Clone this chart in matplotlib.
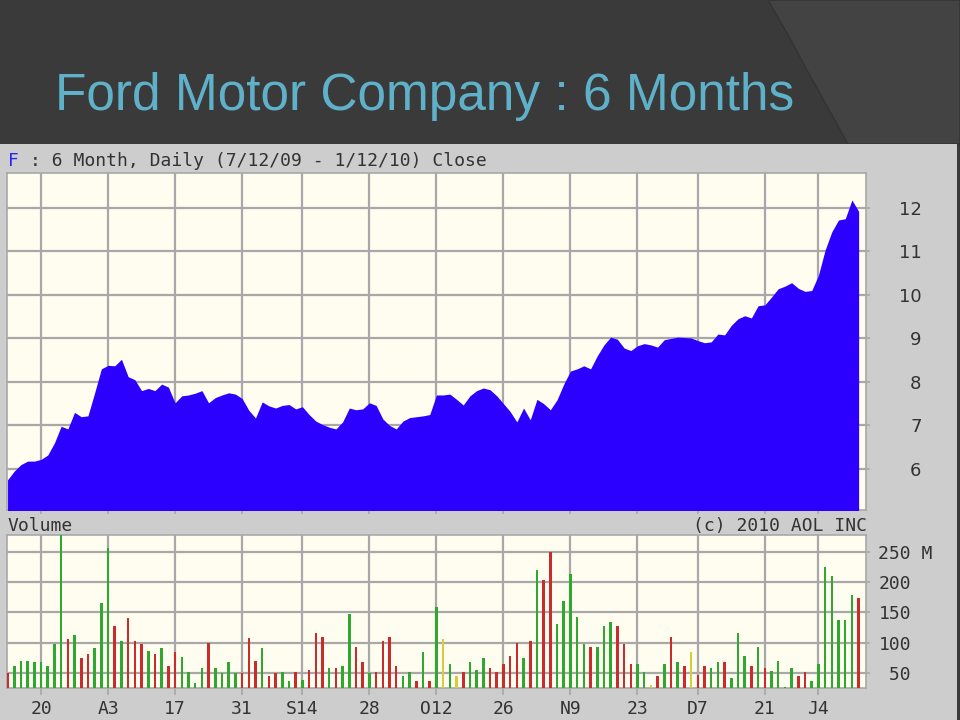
"""Ford Motor Company 6-month price / volume chart, as seen on a slide."""

import matplotlib
matplotlib.use('Agg')
import matplotlib.pyplot as plt
import numpy as np
from matplotlib.patches import Rectangle, Polygon

# Daily closes, 7/13/09 .. 1/12/10 (trading-day index 0..127) [$]
close = [5.75, 5.95, 6.10, 6.18, 6.18, 6.22, 6.32, 6.60, 6.98, 6.92,
         7.30, 7.20, 7.22, 7.75, 8.30, 8.38, 8.37, 8.52, 8.12, 8.05,
         7.80, 7.85, 7.80, 7.95, 7.88, 7.52, 7.68, 7.70, 7.74, 7.80,
         7.52, 7.64, 7.70, 7.75, 7.72, 7.62, 7.35, 7.17, 7.54, 7.45,
         7.40, 7.46, 7.48, 7.38, 7.43, 7.25, 7.10, 7.02, 6.96, 6.92,
         7.08, 7.40, 7.36, 7.38, 7.52, 7.46, 7.15, 7.00, 6.92, 7.10,
         7.18, 7.20, 7.22, 7.25, 7.70, 7.70, 7.72, 7.60, 7.47, 7.68,
         7.80, 7.86, 7.82, 7.68, 7.50, 7.32, 7.08, 7.40, 7.13, 7.60,
         7.50, 7.36, 7.59, 7.95, 8.25, 8.30, 8.37, 8.30, 8.60, 8.85,
         9.03, 8.98, 8.78, 8.72, 8.83, 8.88, 8.85, 8.80, 8.97, 9.00,
         9.03, 9.02, 9.01, 8.95, 8.90, 8.92, 9.10, 9.08, 9.30, 9.45,
         9.52, 9.47, 9.75, 9.77, 9.95, 10.14, 10.20, 10.28, 10.15, 10.08,
         10.10, 10.45, 11.03, 11.45, 11.72, 11.75, 12.18, 11.92]

# Daily volume [millions]
volume = [50, 61, 70, 70, 68, 68, 61, 97, 300, 106,
          112, 74, 81, 92, 165, 257, 128, 103, 140, 103,
          97, 86, 81, 92, 61, 84, 77, 51, 33, 58,
          99, 58, 50, 68, 50, 50, 108, 70, 92, 45,
          50, 51, 36, 51, 38, 55, 116, 109, 58, 58,
          61, 147, 93, 68, 50, 51, 102, 109, 61, 45,
          51, 36, 84, 36, 159, 106, 64, 45, 51, 68,
          55, 74, 58, 51, 64, 78, 99, 74, 103, 220,
          204, 250, 131, 169, 213, 143, 97, 93, 93, 128,
          134, 128, 97, 65, 65, 51, 30, 45, 65, 109,
          68, 61, 84, 47, 61, 58, 68, 68, 42, 116,
          78, 61, 93, 58, 54, 70, 27, 58, 45, 51,
          36, 65, 225, 210, 138, 138, 178, 173]

# up (g) / down (r) / unchanged (y) day for each volume bar
updown = ("rggggggggr" "grrgggrgrr" "rgrgrrgggg" "rggggrrrgr" "rggrgrrrgr"
          "ggrrgrrrrg" "grgrgygyrg" "ggrrrrrgrg" "rrgggggrgg" "grrrggyrgr"
          "gryrrggrgg" "grgrggggrr" "gggggggr")

tick_days = [5, 15, 25, 35, 44, 54, 64, 74, 84, 94, 103, 113, 121]
tick_labels = ['20', 'A3', '17', '31', 'S14', '28', 'O12', '26', 'N9', '23', 'D7', '21', 'J4']

price_ticks = [6, 7, 8, 9, 10, 11, 12]
vol_ticks = [50, 100, 150, 200, 250]
vol_labels = [' 50', '100', '150', '200', '250 M']

SLIDE = '#3a3a3a'
PANEL = '#cdcdcd'
CREAM = '#fffcf0'
GRID = '#a8a8a8'
TXT = '#333333'
MONO = 'DejaVu Sans Mono'
bar_colors = {'g': '#2ea82e', 'r': '#cc2b2b', 'y': '#d6cc3e'}

W, H = 960, 720
fig = plt.figure(figsize=(9.6, 7.2), dpi=100, facecolor=SLIDE)


def fx(px):
    return px / W


def fy(py):
    return 1 - py / H


# slide decoration and grey chart panel
curve = [(768, 0), (788, 35), (808, 72), (828, 108), (848, 144), (960, 144), (960, 0)]
fig.add_artist(Polygon([(fx(x), fy(y)) for x, y in curve], closed=True,
                       transform=fig.transFigure, facecolor='#434343',
                       edgecolor='#333333', lw=1.0, zorder=-2))
fig.add_artist(Rectangle((0, 0), fx(957), fy(144), transform=fig.transFigure,
                         facecolor=PANEL, edgecolor='none', zorder=-1))

fig.text(fx(55), fy(110), 'Ford Motor Company : 6 Months', color='#5fb1ca',
         fontsize=37, family='Liberation Sans', va='baseline', ha='left')

days = np.arange(len(close))
xlim = (-0.08, 128.1)

# ---- price panel
ax = fig.add_axes([fx(7), fy(510), fx(866) - fx(7), fy(173) - fy(510)])
ax.set_facecolor(CREAM)
ax.fill_between(days, close, 0, color='#2b00ff', lw=0, zorder=3)
ax.set_xlim(*xlim)
ax.set_ylim(5.057, 12.80)
ax.set_xticks(tick_days)
ax.set_xticklabels([])
ax.set_yticks(price_ticks)
ax.yaxis.tick_right()
ax.tick_params(axis='x', length=3, width=1.2, color=GRID)
ax.tick_params(axis='y', length=3, width=1.2, color=GRID, pad=37,
               labelsize=13, labelcolor=TXT)
for t in ax.get_yticklabels():
    t.set_horizontalalignment('right')
ax.grid(True, color=GRID, lw=1.6)
ax.set_axisbelow(True)
for s in ax.spines.values():
    s.set_color(GRID)
    s.set_linewidth(1.2)

# ---- volume panel
av = fig.add_axes([fx(7), fy(688), fx(866) - fx(7), fy(535) - fy(688)])
av.set_facecolor(CREAM)
av.bar(days, volume, width=0.38, color=[bar_colors[c] for c in updown], zorder=3)
av.set_xlim(*xlim)
av.set_ylim(25.2, 277.7)
av.set_xticks(tick_days)
av.set_xticklabels(tick_labels, family=MONO, fontsize=13, color=TXT)
av.set_yticks(vol_ticks)
av.set_yticklabels(vol_labels, family=MONO, fontsize=13, color=TXT)
av.yaxis.tick_right()
av.tick_params(axis='x', length=5, width=1.2, color=GRID, pad=4)
av.tick_params(axis='y', length=3, width=1.2, color=GRID, pad=6)
av.grid(True, color=GRID, lw=1.6)
av.set_axisbelow(True)
for s in av.spines.values():
    s.set_color(GRID)
    s.set_linewidth(1.2)

# ---- header texts
fig.text(fx(8), fy(161), 'F', color='#2424ff', family=MONO, fontsize=13, va='center')
fig.text(fx(8 + 2 * 10.87), fy(161), ': 6 Month, Daily (7/12/09 - 1/12/10) Close',
         color=TXT, family=MONO, fontsize=13, va='center')
fig.text(fx(7), fy(526), 'Volume', color=TXT, family=MONO, fontsize=13, va='center')
fig.text(fx(867), fy(526), '(c) 2010 AOL INC', color=TXT, family=MONO, fontsize=13,
         va='center', ha='right')

fig.savefig('out.png', dpi=100, facecolor=fig.get_facecolor())
